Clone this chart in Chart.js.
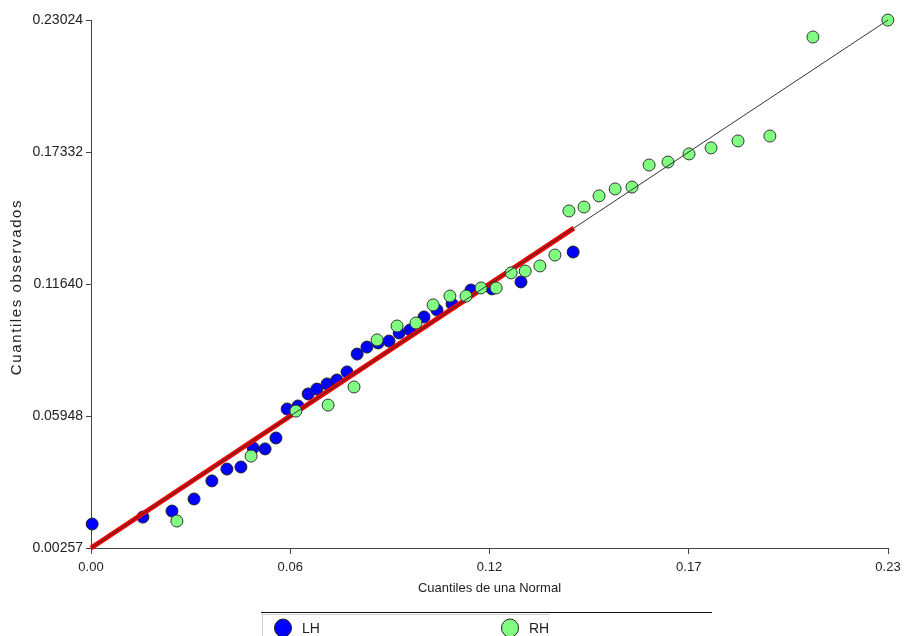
<!DOCTYPE html>
<html>
<head>
<meta charset="utf-8">
<script src="https://cdn.jsdelivr.net/npm/chart.js@4.4.1/dist/chart.umd.min.js"></script>
<style>
  html, body { margin: 0; padding: 0; background: #ffffff; }
  #wrap { width: 904px; height: 636px; }
</style>
</head>
<body>
<div id="wrap"><canvas id="qqChart" width="904" height="636"></canvas></div>
<script>
const lhX = [0.0029, 0.0174, 0.0257, 0.0320, 0.0371, 0.0414, 0.0454, 0.0489, 0.0523, 0.0554,
             0.0586, 0.0617, 0.0646, 0.0671, 0.0700, 0.0728, 0.0757, 0.0786, 0.0814, 0.0846,
             0.0877, 0.0906, 0.0937, 0.0977, 0.1014, 0.1057, 0.1111, 0.1171, 0.1254, 0.1403];
const lhY = [0.0129, 0.0159, 0.0185, 0.0237, 0.0315, 0.0366, 0.0375, 0.0457, 0.0453, 0.0500,
             0.0625, 0.0638, 0.0690, 0.0711, 0.0733, 0.0750, 0.0785, 0.0862, 0.0892, 0.0910,
             0.0918, 0.0953, 0.0966, 0.1022, 0.1052, 0.1078, 0.1138, 0.1143, 0.1173, 0.1302];
const rhX = [0.0271, 0.0483, 0.0611, 0.0703, 0.0777, 0.0843, 0.0900, 0.0954, 0.1003, 0.1051,
             0.1097, 0.1140, 0.1183, 0.1226, 0.1266, 0.1308, 0.1351, 0.1391, 0.1434, 0.1477,
             0.1523, 0.1571, 0.1620, 0.1674, 0.1734, 0.1797, 0.1874, 0.1965, 0.2088, 0.2302];
const rhY = [0.0142, 0.0422, 0.0616, 0.0642, 0.0720, 0.0923, 0.0983, 0.0996, 0.1074, 0.1112,
             0.1112, 0.1147, 0.1147, 0.1212, 0.1220, 0.1242, 0.1289, 0.1479, 0.1496, 0.1544,
             0.1574, 0.1582, 0.1677, 0.1690, 0.1725, 0.1751, 0.1781, 0.1802, 0.2229, 0.2302];

// reference line y = x : red part (LH range) and thin black part (full range)
const redLine = [0.00257, 0.1405];
const blackLine = [0.00257, 0.23024];

// axis ticks (same for both axes)
const axisTicks = [0.00257, 0.05948, 0.11640, 0.17332, 0.23024];

const seriesNames = ['LH', 'RH'];
const xTitle = 'Cuantiles de una Normal';
const yTitle = 'Cuantiles observados';

const FONT = "'Liberation Sans', Arial, sans-serif";
Chart.defaults.font.family = FONT;
Chart.defaults.color = '#222';

function toPoints(xs, ys) {
  return xs.map((x, i) => ({ x: x, y: ys[i] }));
}

// y title (with letter spacing) and the legend strip at the bottom
const extras = {
  id: 'extras',
  afterDraw(chart) {
    const ctx = chart.ctx;
    const area = chart.chartArea;
    ctx.save();
    ctx.fillStyle = '#222';
    ctx.font = '15px ' + FONT;
    ctx.letterSpacing = '1.6px';
    ctx.textAlign = 'center';
    ctx.textBaseline = 'middle';
    ctx.translate(17, (area.top + area.bottom) / 2 + 3);
    ctx.rotate(-Math.PI / 2);
    ctx.fillText(yTitle, 0, 0);
    ctx.restore();

    // legend box
    ctx.save();
    ctx.strokeStyle = '#111';
    ctx.lineWidth = 1;
    ctx.beginPath();
    ctx.moveTo(261, 612.5);
    ctx.lineTo(712, 612.5);
    ctx.stroke();
    ctx.strokeStyle = '#d0d0d0';
    ctx.beginPath();
    ctx.moveTo(262.5, 613);
    ctx.lineTo(262.5, 636);
    ctx.moveTo(263, 614.5);
    ctx.lineTo(550, 614.5);
    ctx.stroke();

    const items = [
      { ds: chart.data.datasets[3], x: 283 },
      { ds: chart.data.datasets[1], x: 510 }
    ];
    items.forEach(it => {
      ctx.beginPath();
      ctx.ellipse(it.x, 628, 8.5, 9, 0, 0, Math.PI * 2);
      ctx.fillStyle = it.ds.backgroundColor;
      ctx.fill();
      ctx.strokeStyle = '#222';
      ctx.stroke();
      ctx.fillStyle = '#222';
      ctx.font = '14px ' + FONT;
      ctx.textAlign = 'left';
      ctx.textBaseline = 'middle';
      ctx.fillText(it.ds.label, it.x + 19, 629);
    });
    ctx.restore();
  }
};

const ctx = document.getElementById('qqChart').getContext('2d');
const qqChart = new Chart(ctx, {
  type: 'scatter',
  data: {
    datasets: [
      { // thin black reference line, on top
        label: 'ref',
        data: toPoints(blackLine, blackLine),
        showLine: true,
        borderColor: '#333333',
        borderWidth: 1,
        pointRadius: 0,
        clip: false,
        order: 0
      },
      {
        label: seriesNames[1],
        data: toPoints(rhX, rhY),
        backgroundColor: '#80ff80',
        borderColor: '#333333',
        borderWidth: 1,
        pointRadius: 6,
        clip: false,
        order: 1
      },
      { // thick red reference line
        label: 'fit',
        data: toPoints(redLine, redLine),
        showLine: true,
        borderColor: '#ee0000',
        borderWidth: 5,
        pointRadius: 0,
        clip: false,
        order: 2
      },
      {
        label: seriesNames[0],
        data: toPoints(lhX, lhY),
        backgroundColor: '#0000ff',
        borderColor: '#222222',
        borderWidth: 1,
        pointRadius: 6,
        clip: false,
        order: 3
      }
    ]
  },
  options: {
    responsive: false,
    animation: false,
    events: [],
    layout: { padding: { top: 20, right: 16, bottom: 40, left: 0 } },
    plugins: {
      legend: { display: false },
      tooltip: { enabled: false }
    },
    scales: {
      x: {
        type: 'linear',
        min: axisTicks[0],
        max: axisTicks[axisTicks.length - 1],
        afterBuildTicks: s => { s.ticks = axisTicks.map(v => ({ value: v })); },
        afterFit: s => { s.height = 48; s.paddingRight = 0; },
        border: { color: '#444', width: 1 },
        grid: { drawOnChartArea: false, drawTicks: true, tickLength: 6, color: '#444' },
        ticks: {
          font: { size: 13 },
          color: '#222',
          padding: 6,
          maxRotation: 0,
          callback: v => Number(v).toFixed(2)
        },
        title: {
          display: true,
          text: xTitle,
          font: { size: 13 },
          color: '#222',
          padding: { top: 2, bottom: 0 }
        }
      },
      y: {
        type: 'linear',
        min: axisTicks[0],
        max: axisTicks[axisTicks.length - 1],
        afterBuildTicks: s => { s.ticks = axisTicks.map(v => ({ value: v })); },
        afterFit: s => { s.width = 91; },
        border: { color: '#444', width: 1 },
        grid: { drawOnChartArea: false, drawTicks: true, tickLength: 5, color: '#444' },
        ticks: {
          font: { size: 14 },
          color: '#222',
          padding: 3,
          callback: v => Number(v).toFixed(5)
        }
      }
    }
  },
  plugins: [extras]
});
</script>
</body>
</html>
